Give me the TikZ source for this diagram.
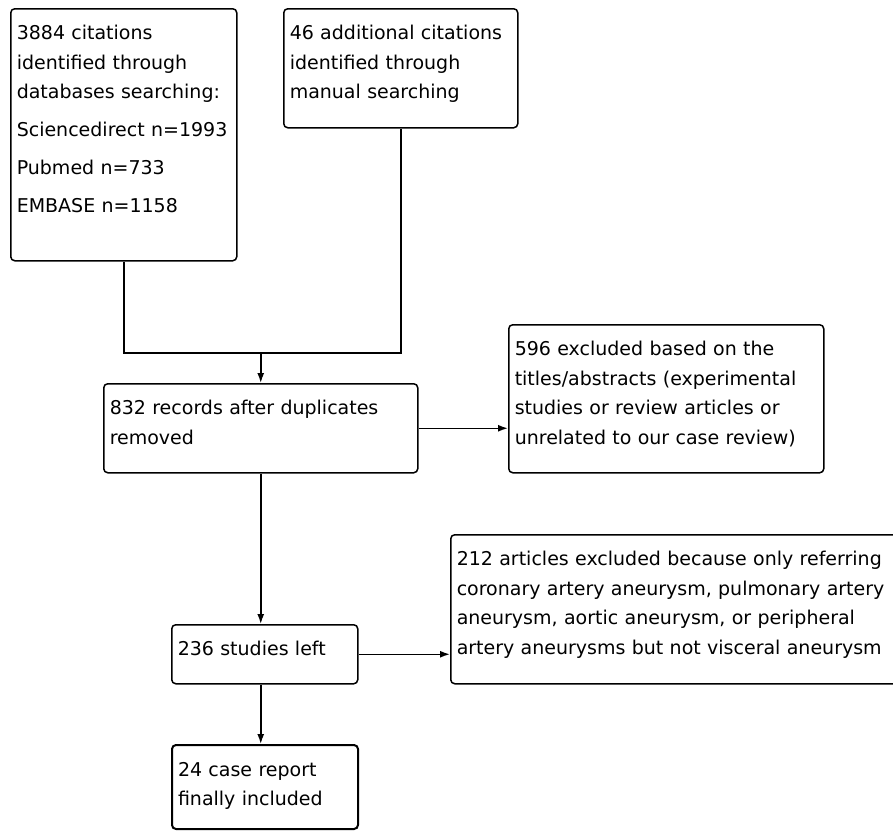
\documentclass[tikz,border=0pt]{standalone}
\usepackage{fontspec}
\setmainfont{DejaVu Sans}
\usetikzlibrary{arrows.meta}
\begin{document}
\begin{tikzpicture}[x=1pt, y=-1pt, line width=1.5pt,
    box/.style={draw, rounded corners=4pt, anchor=north west, align=left,
      inner xsep=6pt, inner ysep=0pt, text height=31pt,
      font=\fontsize{19}{29.5}\selectfont},
    arr/.style={-{Latex[length=10pt,width=7pt]}}]
        \useasboundingbox (0,0) rectangle (893,831);
        \node[box, text width=214pt, text depth=221pt] (found) at (10,8)
          {3884 citations\\identified through\\databases searching:\\[8.5pt]
           Sciencedirect n=1993\\[8.5pt]Pubmed n=733\\[8.5pt]EMBASE n=1158};
        \node[box, text width=222pt, text depth=88pt] (manual) at (283,8)
          {46 additional citations\\identified through\\manual searching};
        \node[box, text width=302pt, text depth=58pt] (dedup) at (103,383)
          {832 records after duplicates\\removed};
        \node[box, text width=303pt, text depth=117pt] (titles) at (508,324)
          {596 excluded based on the\\titles/abstracts (experimental\\studies or review articles or\\unrelated to our case review)};
        \node[box, text width=174pt, text depth=28pt] (left) at (171,624)
          {236 studies left};
        \node[box, text width=435pt, text depth=118pt] (other) at (450,534)
          {212 articles excluded because only referring\\coronary artery aneurysm, pulmonary artery\\aneurysm, aortic aneurysm, or peripheral\\artery aneurysms but not visceral aneurysm};
        \node[box, line width=2pt, text width=174pt, text depth=53pt] (final) at (171,744)
          {24 case report\\finally included};
        \coordinate (join) at (dedup.north |- 0,353);
        \draw (found.south) |- (manual.south |- join) -- (manual.south);
        \draw[arr] (join) -- (dedup.north);
        \draw[arr] (dedup.east) -- (dedup.east -| titles.west);
        \draw[arr] (dedup.south -| join) -- (left.north -| join);
        \draw[arr] (left.east) -- (left.east -| other.west);
        \draw[arr] (left.south -| join) -- (final.north -| join);
\end{tikzpicture}
\end{document}
